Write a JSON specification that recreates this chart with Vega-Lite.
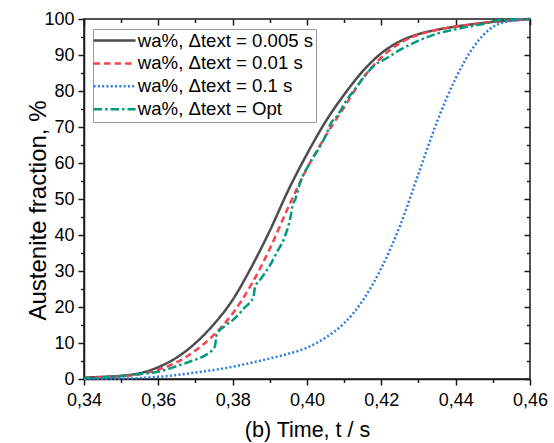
{
  "$schema": "https://vega.github.io/schema/vega-lite/v6.json",
  "width": 446,
  "height": 360,
  "autosize": {"type": "none"},
  "padding": {"left": 84, "top": 19, "right": 24, "bottom": 64},
  "background": "white",
  "config": {
    "font": "Liberation Sans",
    "view": {"stroke": "#1a1a1a", "strokeWidth": 1.5},
    "axis": {
      "grid": false,
      "labelFont": "Liberation Sans",
      "labelFontSize": 18,
      "labelColor": "#000000",
      "tickColor": "#1a1a1a",
      "tickWidth": 1.5,
      "domainColor": "#1a1a1a",
      "domainWidth": 1.5,
      "titleFont": "Liberation Sans",
      "titleFontWeight": "normal",
      "titleColor": "#000000",
      "labelFlush": false,
      "labelOverlap": false
    }
  },
  "data": {
    "values": [
      {"series": "wa%, Δtext = 0.005 s", "t": 0.340, "v": 0.4},
      {"series": "wa%, Δtext = 0.005 s", "t": 0.345, "v": 0.6},
      {"series": "wa%, Δtext = 0.005 s", "t": 0.350, "v": 0.9},
      {"series": "wa%, Δtext = 0.005 s", "t": 0.355, "v": 1.6},
      {"series": "wa%, Δtext = 0.005 s", "t": 0.360, "v": 3.3},
      {"series": "wa%, Δtext = 0.005 s", "t": 0.365, "v": 6.0},
      {"series": "wa%, Δtext = 0.005 s", "t": 0.370, "v": 10.0},
      {"series": "wa%, Δtext = 0.005 s", "t": 0.375, "v": 15.3},
      {"series": "wa%, Δtext = 0.005 s", "t": 0.380, "v": 22.0},
      {"series": "wa%, Δtext = 0.005 s", "t": 0.385, "v": 31.0},
      {"series": "wa%, Δtext = 0.005 s", "t": 0.390, "v": 41.2},
      {"series": "wa%, Δtext = 0.005 s", "t": 0.395, "v": 52.5},
      {"series": "wa%, Δtext = 0.005 s", "t": 0.400, "v": 62.5},
      {"series": "wa%, Δtext = 0.005 s", "t": 0.405, "v": 71.5},
      {"series": "wa%, Δtext = 0.005 s", "t": 0.410, "v": 79.0},
      {"series": "wa%, Δtext = 0.005 s", "t": 0.415, "v": 85.5},
      {"series": "wa%, Δtext = 0.005 s", "t": 0.420, "v": 90.5},
      {"series": "wa%, Δtext = 0.005 s", "t": 0.425, "v": 93.8},
      {"series": "wa%, Δtext = 0.005 s", "t": 0.430, "v": 95.8},
      {"series": "wa%, Δtext = 0.005 s", "t": 0.435, "v": 97.0},
      {"series": "wa%, Δtext = 0.005 s", "t": 0.440, "v": 97.9},
      {"series": "wa%, Δtext = 0.005 s", "t": 0.445, "v": 98.6},
      {"series": "wa%, Δtext = 0.005 s", "t": 0.450, "v": 99.2},
      {"series": "wa%, Δtext = 0.005 s", "t": 0.455, "v": 99.6},
      {"series": "wa%, Δtext = 0.005 s", "t": 0.460, "v": 100.0},

      {"series": "wa%, Δtext = 0.01 s", "t": 0.340, "v": 0.3},
      {"series": "wa%, Δtext = 0.01 s", "t": 0.345, "v": 0.5},
      {"series": "wa%, Δtext = 0.01 s", "t": 0.350, "v": 0.8},
      {"series": "wa%, Δtext = 0.01 s", "t": 0.355, "v": 1.3},
      {"series": "wa%, Δtext = 0.01 s", "t": 0.360, "v": 2.6},
      {"series": "wa%, Δtext = 0.01 s", "t": 0.365, "v": 4.7},
      {"series": "wa%, Δtext = 0.01 s", "t": 0.370, "v": 7.9},
      {"series": "wa%, Δtext = 0.01 s", "t": 0.375, "v": 12.3},
      {"series": "wa%, Δtext = 0.01 s", "t": 0.380, "v": 18.2},
      {"series": "wa%, Δtext = 0.01 s", "t": 0.385, "v": 26.2},
      {"series": "wa%, Δtext = 0.01 s", "t": 0.390, "v": 36.2},
      {"series": "wa%, Δtext = 0.01 s", "t": 0.395, "v": 47.8},
      {"series": "wa%, Δtext = 0.01 s", "t": 0.400, "v": 58.5},
      {"series": "wa%, Δtext = 0.01 s", "t": 0.405, "v": 67.5},
      {"series": "wa%, Δtext = 0.01 s", "t": 0.410, "v": 75.5},
      {"series": "wa%, Δtext = 0.01 s", "t": 0.415, "v": 83.5},
      {"series": "wa%, Δtext = 0.01 s", "t": 0.420, "v": 89.3},
      {"series": "wa%, Δtext = 0.01 s", "t": 0.425, "v": 93.3},
      {"series": "wa%, Δtext = 0.01 s", "t": 0.430, "v": 95.6},
      {"series": "wa%, Δtext = 0.01 s", "t": 0.435, "v": 97.0},
      {"series": "wa%, Δtext = 0.01 s", "t": 0.440, "v": 97.9},
      {"series": "wa%, Δtext = 0.01 s", "t": 0.445, "v": 98.6},
      {"series": "wa%, Δtext = 0.01 s", "t": 0.450, "v": 99.2},
      {"series": "wa%, Δtext = 0.01 s", "t": 0.455, "v": 99.6},
      {"series": "wa%, Δtext = 0.01 s", "t": 0.460, "v": 100.0},

      {"series": "wa%, Δtext = 0.1 s", "t": 0.340, "v": 0.0},
      {"series": "wa%, Δtext = 0.1 s", "t": 0.345, "v": 0.05},
      {"series": "wa%, Δtext = 0.1 s", "t": 0.350, "v": 0.1},
      {"series": "wa%, Δtext = 0.1 s", "t": 0.355, "v": 0.25},
      {"series": "wa%, Δtext = 0.1 s", "t": 0.360, "v": 0.6},
      {"series": "wa%, Δtext = 0.1 s", "t": 0.365, "v": 1.1},
      {"series": "wa%, Δtext = 0.1 s", "t": 0.370, "v": 1.8},
      {"series": "wa%, Δtext = 0.1 s", "t": 0.375, "v": 2.5},
      {"series": "wa%, Δtext = 0.1 s", "t": 0.380, "v": 3.4},
      {"series": "wa%, Δtext = 0.1 s", "t": 0.385, "v": 4.5},
      {"series": "wa%, Δtext = 0.1 s", "t": 0.390, "v": 5.7},
      {"series": "wa%, Δtext = 0.1 s", "t": 0.395, "v": 7.0},
      {"series": "wa%, Δtext = 0.1 s", "t": 0.400, "v": 8.7},
      {"series": "wa%, Δtext = 0.1 s", "t": 0.405, "v": 11.5},
      {"series": "wa%, Δtext = 0.1 s", "t": 0.410, "v": 15.5},
      {"series": "wa%, Δtext = 0.1 s", "t": 0.415, "v": 21.8},
      {"series": "wa%, Δtext = 0.1 s", "t": 0.420, "v": 30.8},
      {"series": "wa%, Δtext = 0.1 s", "t": 0.425, "v": 42.5},
      {"series": "wa%, Δtext = 0.1 s", "t": 0.430, "v": 57.0},
      {"series": "wa%, Δtext = 0.1 s", "t": 0.435, "v": 71.5},
      {"series": "wa%, Δtext = 0.1 s", "t": 0.440, "v": 83.5},
      {"series": "wa%, Δtext = 0.1 s", "t": 0.445, "v": 92.5},
      {"series": "wa%, Δtext = 0.1 s", "t": 0.450, "v": 97.8},
      {"series": "wa%, Δtext = 0.1 s", "t": 0.455, "v": 99.5},
      {"series": "wa%, Δtext = 0.1 s", "t": 0.460, "v": 100.0},

      {"series": "wa%, Δtext = Opt", "t": 0.340, "v": 0.2},
      {"series": "wa%, Δtext = Opt", "t": 0.345, "v": 0.4},
      {"series": "wa%, Δtext = Opt", "t": 0.350, "v": 0.8},
      {"series": "wa%, Δtext = Opt", "t": 0.355, "v": 1.4},
      {"series": "wa%, Δtext = Opt", "t": 0.360, "v": 2.0},
      {"series": "wa%, Δtext = Opt", "t": 0.365, "v": 3.6},
      {"series": "wa%, Δtext = Opt", "t": 0.370, "v": 5.4},
      {"series": "wa%, Δtext = Opt", "t": 0.3721, "v": 6.3},
      {"series": "wa%, Δtext = Opt", "t": 0.3752, "v": 9.0},
      {"series": "wa%, Δtext = Opt", "t": 0.3757, "v": 12.3},
      {"series": "wa%, Δtext = Opt", "t": 0.378, "v": 14.8},
      {"series": "wa%, Δtext = Opt", "t": 0.3802, "v": 16.5},
      {"series": "wa%, Δtext = Opt", "t": 0.383, "v": 19.6},
      {"series": "wa%, Δtext = Opt", "t": 0.3856, "v": 22.9},
      {"series": "wa%, Δtext = Opt", "t": 0.3860, "v": 25.5},
      {"series": "wa%, Δtext = Opt", "t": 0.3874, "v": 27.6},
      {"series": "wa%, Δtext = Opt", "t": 0.390, "v": 31.5},
      {"series": "wa%, Δtext = Opt", "t": 0.3918, "v": 35.0},
      {"series": "wa%, Δtext = Opt", "t": 0.394, "v": 39.5},
      {"series": "wa%, Δtext = Opt", "t": 0.3954, "v": 44.2},
      {"series": "wa%, Δtext = Opt", "t": 0.3963, "v": 48.8},
      {"series": "wa%, Δtext = Opt", "t": 0.3968, "v": 49.8},
      {"series": "wa%, Δtext = Opt", "t": 0.3981, "v": 54.4},
      {"series": "wa%, Δtext = Opt", "t": 0.4008, "v": 60.0},
      {"series": "wa%, Δtext = Opt", "t": 0.4035, "v": 64.6},
      {"series": "wa%, Δtext = Opt", "t": 0.4057, "v": 69.2},
      {"series": "wa%, Δtext = Opt", "t": 0.4062, "v": 70.6},
      {"series": "wa%, Δtext = Opt", "t": 0.4080, "v": 72.9},
      {"series": "wa%, Δtext = Opt", "t": 0.4107, "v": 77.5},
      {"series": "wa%, Δtext = Opt", "t": 0.4134, "v": 81.2},
      {"series": "wa%, Δtext = Opt", "t": 0.4161, "v": 84.9},
      {"series": "wa%, Δtext = Opt", "t": 0.418, "v": 87.0},
      {"series": "wa%, Δtext = Opt", "t": 0.4214, "v": 89.1},
      {"series": "wa%, Δtext = Opt", "t": 0.425, "v": 91.4},
      {"series": "wa%, Δtext = Opt", "t": 0.430, "v": 94.0},
      {"series": "wa%, Δtext = Opt", "t": 0.434, "v": 95.6},
      {"series": "wa%, Δtext = Opt", "t": 0.4412, "v": 97.4},
      {"series": "wa%, Δtext = Opt", "t": 0.4483, "v": 98.8},
      {"series": "wa%, Δtext = Opt", "t": 0.4519, "v": 99.7},
      {"series": "wa%, Δtext = Opt", "t": 0.460, "v": 100.0}
    ]
  },
  "layer": [
    {
      "mark": {"type": "line", "interpolate": "monotone", "strokeWidth": 2.5},
      "encoding": {
        "x": {
          "field": "t", "type": "quantitative",
          "scale": {"domain": [0.34, 0.46], "nice": false, "zero": false},
          "axis": {
            "orient": "bottom",
            "values": [0.34, 0.36, 0.38, 0.40, 0.42, 0.44, 0.46],
            "labelExpr": "replace(format(datum.value, '.2f'), '.', ',')",
            "tickSize": 6,
            "labelPadding": 6,
            "title": "(b) Time, t / s",
            "titleFontSize": 21.5,
            "titleBaseline": "alphabetic",
            "titleY": 57.5
          }
        },
        "y": {
          "field": "v", "type": "quantitative",
          "scale": {"domain": [0, 100], "nice": false},
          "axis": {
            "orient": "left",
            "values": [0, 10, 20, 30, 40, 50, 60, 70, 80, 90, 100],
            "tickSize": 6,
            "labelPadding": 4,
            "title": "Austenite fraction, %",
            "titleFontSize": 24,
            "titleBaseline": "alphabetic",
            "titleAngle": -90,
            "titleX": -39,
            "titleY": 191
          }
        },
        "color": {
          "field": "series", "type": "nominal",
          "scale": {
            "domain": ["wa%, Δtext = 0.005 s", "wa%, Δtext = 0.01 s", "wa%, Δtext = 0.1 s", "wa%, Δtext = Opt"],
            "range": ["#4d4d4d", "#f4434b", "#2b7be5", "#009a80"]
          },
          "legend": {
            "orient": "none", "legendX": 9, "legendY": 10, "title": null,
            "symbolType": "M-1,0H5", "symbolSize": 196, "symbolStrokeWidth": 2.5, "symbolOffset": -4,
            "labelFont": "Liberation Sans", "labelFontSize": 18.6, "labelColor": "#000000",
            "labelOffset": 28, "rowPadding": 3.9, "padding": 2.25,
            "strokeColor": "#999999", "fillColor": "white", "labelLimit": 0
          }
        },
        "strokeDash": {
          "field": "series", "type": "nominal",
          "scale": {
            "domain": ["wa%, Δtext = 0.005 s", "wa%, Δtext = 0.01 s", "wa%, Δtext = 0.1 s", "wa%, Δtext = Opt"],
            "range": [[1, 0], [6.5, 4], [2, 2.3], [8.5, 3, 2.5, 3]]
          },
          "legend": {
            "orient": "none", "legendX": 9, "legendY": 10, "title": null,
            "symbolType": "M-1,0H5", "symbolSize": 196, "symbolStrokeWidth": 2.5, "symbolOffset": -4,
            "labelFont": "Liberation Sans", "labelFontSize": 18.6, "labelColor": "#000000",
            "labelOffset": 28, "rowPadding": 3.9, "padding": 2.25,
            "strokeColor": "#999999", "fillColor": "white", "labelLimit": 0
          }
        }
      }
    },
    {
      "mark": {"type": "point", "opacity": 0},
      "encoding": {
        "x": {"field": "t", "type": "quantitative", "axis": {"orient": "bottom", "values": [0.35, 0.37, 0.39, 0.41, 0.43, 0.45], "labels": false, "domain": false, "tickSize": 3.5, "title": null}},
        "y": {"field": "v", "type": "quantitative", "axis": {"orient": "left", "values": [5, 15, 25, 35, 45, 55, 65, 75, 85, 95], "labels": false, "domain": false, "tickSize": 3.5, "title": null}}
      }
    },
    {
      "mark": {"type": "point", "opacity": 0},
      "encoding": {
        "x": {"field": "t", "type": "quantitative", "axis": {"orient": "top", "values": [0.34, 0.36, 0.38, 0.40, 0.42, 0.44, 0.46], "labels": false, "domain": false, "tickSize": 6, "offset": -6, "title": null}},
        "y": {"field": "v", "type": "quantitative", "axis": {"orient": "right", "values": [0, 10, 20, 30, 40, 50, 60, 70, 80, 90, 100], "labels": false, "domain": false, "tickSize": 6, "offset": -6, "title": null}}
      }
    },
    {
      "mark": {"type": "point", "opacity": 0},
      "encoding": {
        "x": {"field": "t", "type": "quantitative", "axis": {"orient": "top", "values": [0.35, 0.37, 0.39, 0.41, 0.43, 0.45], "labels": false, "domain": false, "tickSize": 3.5, "offset": -3.5, "title": null}},
        "y": {"field": "v", "type": "quantitative", "axis": {"orient": "right", "values": [5, 15, 25, 35, 45, 55, 65, 75, 85, 95], "labels": false, "domain": false, "tickSize": 3.5, "offset": -3.5, "title": null}}
      }
    }
  ],
  "resolve": {"axis": {"x": "independent", "y": "independent"}}
}
